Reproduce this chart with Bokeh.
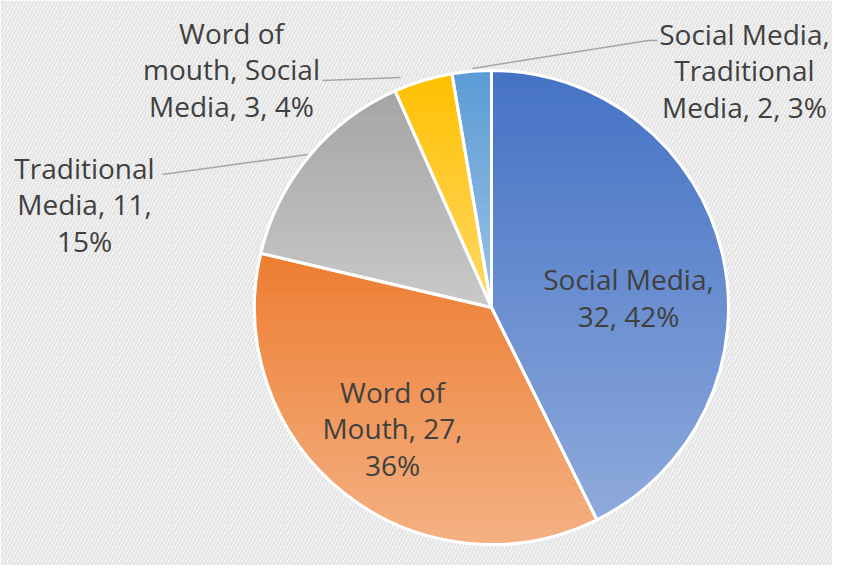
import math
from bokeh.plotting import figure
from bokeh.models import Range1d, ColumnDataSource
from bokeh.core.properties import value
from bokeh.embed import file_html
from bokeh.resources import INLINE

# ---- data ----
categories = ["Social Media", "Word of Mouth", "Traditional Media",
              "Word of mouth, Social Media", "Social Media, Traditional Media"]
values = [32, 27, 11, 3, 2]
pct_labels = ["42%", "36%", "15%", "4%", "3%"]
label_texts = ["Social Media,\n32, 42%",
               "Word of\nMouth, 27,\n36%",
               "Traditional\nMedia, 11,\n15%",
               "Word of\nmouth, Social\nMedia, 3, 4%",
               "Social Media,\nTraditional\nMedia, 2, 3%"]

# ---- style / layout ----
top_colors = ["#4472C4", "#ED7D31", "#A5A5A5", "#FFC000", "#5B9BD5"]
bot_colors = ["#8FAADC", "#F4B183", "#C9C9C9", "#FFD966", "#9DC3E6"]
W, H = 832, 565
REF_H = 581
cx, cy = 491, REF_H - 307
R = 237

def hex2rgb(h):
    h = h.lstrip("#")
    return tuple(int(h[i:i + 2], 16) for i in (0, 2, 4))

def mix(c1, c2, t):
    a, b = hex2rgb(c1), hex2rgb(c2)
    return "#%02x%02x%02x" % tuple(int(round(a[i] + (b[i] - a[i]) * t)) for i in range(3))

def clip_half(poly, yv, keep_above):
    out = []
    n = len(poly)
    for i in range(n):
        p, q = poly[i], poly[(i + 1) % n]
        pin = p[1] >= yv if keep_above else p[1] <= yv
        qin = q[1] >= yv if keep_above else q[1] <= yv
        if pin:
            out.append(p)
        if pin != qin:
            t = (yv - p[1]) / (q[1] - p[1])
            out.append((p[0] + t * (q[0] - p[0]), yv))
    return out

p = figure(width=W, height=H, output_backend="svg", toolbar_location=None,
           x_range=Range1d(0, W), y_range=Range1d(REF_H - H, REF_H),
           min_border=0, outline_line_color=None)
p.axis.visible = False
p.grid.visible = False
p.background_fill_color = "white"
p.border_fill_color = "white"

# striped background
p.quad(left=[0], right=[W], bottom=[REF_H - H], top=[REF_H],
       fill_color="white", line_color=None,
       hatch_pattern="/", hatch_color="#e4e4e4", hatch_weight=2.5, hatch_scale=7)

total = float(sum(values))
starts, ends = [], []
cum = 0.0
for v in values:
    starts.append(math.radians(90 - cum / total * 360))
    cum += v
    ends.append(math.radians(90 - cum / total * 360))

# gradient fill via horizontal bands
xs, ys, cols = [], [], []
NB = 90
for i in range(len(values)):
    a0, a1 = starts[i], ends[i]
    n = 200
    poly = [(cx, cy)] + [(cx + R * math.cos(a0 + (a1 - a0) * k / n),
                          cy + R * math.sin(a0 + (a1 - a0) * k / n)) for k in range(n + 1)]
    ymin = min(pt[1] for pt in poly)
    ymax = max(pt[1] for pt in poly)
    for b in range(NB):
        y0 = ymin + (ymax - ymin) * b / NB
        y1 = ymin + (ymax - ymin) * (b + 1) / NB
        part = clip_half(poly, y0, True)
        if len(part) < 3:
            continue
        part = clip_half(part, y1 + 0.3, False)
        if len(part) < 3:
            continue
        t = 1 - (b + 0.5) / NB
        c = mix(top_colors[i], bot_colors[i], t)
        xs.append([pt[0] for pt in part])
        ys.append([pt[1] for pt in part])
        cols.append(c)

p.patches(xs="xs", ys="ys", fill_color="c", line_color="c", line_width=0.6,
          source=ColumnDataSource(dict(xs=xs, ys=ys, c=cols)))

# slice outlines
p.wedge(x=cx, y=cy, radius=R, start_angle=starts, end_angle=ends,
        direction="clock", fill_alpha=0, line_color="white", line_width=3)

# leader lines
lead_x = [[162, 307], [322, 400], [472, 648, 657]]
lead_y = [[174, 154], [80, 77], [68, 40, 40]]
p.multi_line(xs=lead_x, ys=[[REF_H - y for y in ly] for ly in lead_y],
             line_color="#a6a6a6", line_width=1.5)

# labels
lab_x = [628, 392, 84, 231, 744]
lab_y = [297, 428, 204, 69, 70]
p.text(x=lab_x, y=[REF_H - y for y in lab_y], text=label_texts,
       text_font=value("Open Sans"), text_font_size="28px", text_color="#404040",
       text_align="center", text_baseline="middle", text_line_height=0.97)

open("out.html", "w").write(file_html(p, INLINE))
